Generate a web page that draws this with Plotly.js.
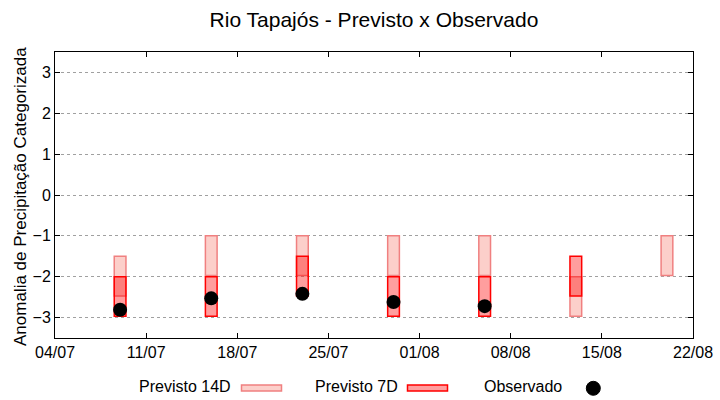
<!DOCTYPE html>
<html>
<head>
<meta charset="utf-8">
<script src="https://cdn.plot.ly/plotly-3.0.1.min.js"></script>
<style>html,body{margin:0;padding:0;background:#fff}#chart{width:720px;height:400px}</style>
</head>
<body>
<div id="chart"></div>
<script>
// ---- data ----
var dates14 = ['2024-07-09','2024-07-16','2024-07-23','2024-07-30','2024-08-06','2024-08-13','2024-08-20'];
var p14Top    = [-1.5, -1.0, -1.0, -1.0, -1.0, -2.0, -1.0];
var p14Bottom = [-2.47, -1.97, -1.97, -1.97, -1.97, -2.97, -1.97];

var dates7 = ['2024-07-09','2024-07-16','2024-07-23','2024-07-30','2024-08-06','2024-08-13'];
var p7Top    = [-2.0, -2.0, -1.5, -2.0, -2.0, -1.5];
var p7Bottom = [-2.97, -2.97, -2.47, -2.97, -2.97, -2.47];

var datesObs = ['2024-07-09','2024-07-16','2024-07-23','2024-07-30','2024-08-06'];
var observado = [-2.81, -2.53, -2.42, -2.62, -2.72];

var tickDates  = ['2024-07-04','2024-07-11','2024-07-18','2024-07-25','2024-08-01','2024-08-08','2024-08-15','2024-08-22'];
var tickLabels = ['04/07','11/07','18/07','25/07','01/08','08/08','15/08','22/08'];

// ---- chart ----
var DAY = 86400000;
var FONT = 'Liberation Sans, Arial, sans-serif';
function diff(a, b) { return a.map(function (v, i) { return v - b[i]; }); }

var traces = [
  {
    type: 'bar', name: 'Previsto 14D', x: dates14, base: p14Bottom, y: diff(p14Top, p14Bottom),
    width: 0.9 * DAY,
    marker: { color: '#FCCFCA', line: { color: '#F08080', width: 1.5 } },
    hoverinfo: 'skip', showlegend: false
  },
  {
    type: 'bar', name: 'Previsto 7D', x: dates7, base: p7Bottom, y: diff(p7Top, p7Bottom),
    width: 0.9 * DAY,
    marker: { color: 'rgba(255,0,0,0.38)', line: { color: '#FF0000', width: 1.5 } },
    hoverinfo: 'skip', showlegend: false
  },
  {
    type: 'scatter', mode: 'markers', name: 'Observado', x: datesObs, y: observado,
    marker: { color: '#000', size: 14, symbol: 'circle' },
    hoverinfo: 'skip', showlegend: false
  }
];

function px(v) { return (v - 55) / 638; }
function py(v) { return (338 - v) / 286; }

var layout = {
  width: 720, height: 400,
  margin: { l: 55, r: 27, t: 52, b: 62 },
  paper_bgcolor: '#fff', plot_bgcolor: '#fff',
  font: { family: FONT, size: 16, color: '#000' },
  barmode: 'overlay',
  title: {
    text: 'Rio Tapajós - Previsto x Observado',
    font: { family: FONT, size: 21, color: '#000' },
    x: 0.5, xref: 'paper', y: 0.95, yref: 'container', yanchor: 'middle'
  },
  xaxis: {
    type: 'date', range: [tickDates[0], tickDates[tickDates.length - 1]],
    tickvals: tickDates, ticktext: tickLabels,
    ticks: 'inside', ticklen: 5, tickcolor: '#000', mirror: 'allticks',
    showline: true, linecolor: '#000', linewidth: 1,
    showgrid: false, zeroline: false,
    tickfont: { family: FONT, size: 16, color: '#000' }
  },
  yaxis: {
    range: [-3.5, 3.5], tick0: 0, dtick: 1,
    ticks: 'inside', ticklen: 5, tickcolor: '#000', mirror: 'allticks',
    showline: true, linecolor: '#000', linewidth: 1,
    showgrid: true, gridcolor: '#a0a0a0', griddash: 'dot', gridwidth: 1,
    zeroline: false,
    tickfont: { family: FONT, size: 16, color: '#000' }
  },
  annotations: [
    { text: 'Anomalia de Precipitação Categorizada', textangle: -90, xref: 'paper', yref: 'paper', x: px(20), y: py(197), xanchor: 'center', yanchor: 'middle', showarrow: false, font: { family: FONT, size: 17 } },
    { text: 'Previsto 14D', xref: 'paper', yref: 'paper', x: px(233), y: py(386), xanchor: 'right', yanchor: 'middle', showarrow: false, font: { family: FONT, size: 16 } },
    { text: 'Previsto 7D', xref: 'paper', yref: 'paper', x: px(399.5), y: py(386), xanchor: 'right', yanchor: 'middle', showarrow: false, font: { family: FONT, size: 16 } },
    { text: 'Observado', xref: 'paper', yref: 'paper', x: px(563.5), y: py(386), xanchor: 'right', yanchor: 'middle', showarrow: false, font: { family: FONT, size: 16 } }
  ],
  shapes: [
    { type: 'rect', xref: 'paper', yref: 'paper', x0: px(241.5), x1: px(281.5), y0: py(391), y1: py(385), fillcolor: '#FCCFCA', line: { color: '#F08080', width: 1.5 } },
    { type: 'rect', xref: 'paper', yref: 'paper', x0: px(407.5), x1: px(447.5), y0: py(391), y1: py(385), fillcolor: 'rgba(255,0,0,0.38)', line: { color: '#FF0000', width: 1.5 } },
    { type: 'circle', xref: 'paper', yref: 'paper', x0: px(586.3), x1: px(600.3), y0: py(395.3), y1: py(381.3), fillcolor: '#000', line: { color: '#000', width: 1 } }
  ]
};

Plotly.newPlot('chart', traces, layout, { displayModeBar: false, staticPlot: true });
</script>
</body>
</html>
